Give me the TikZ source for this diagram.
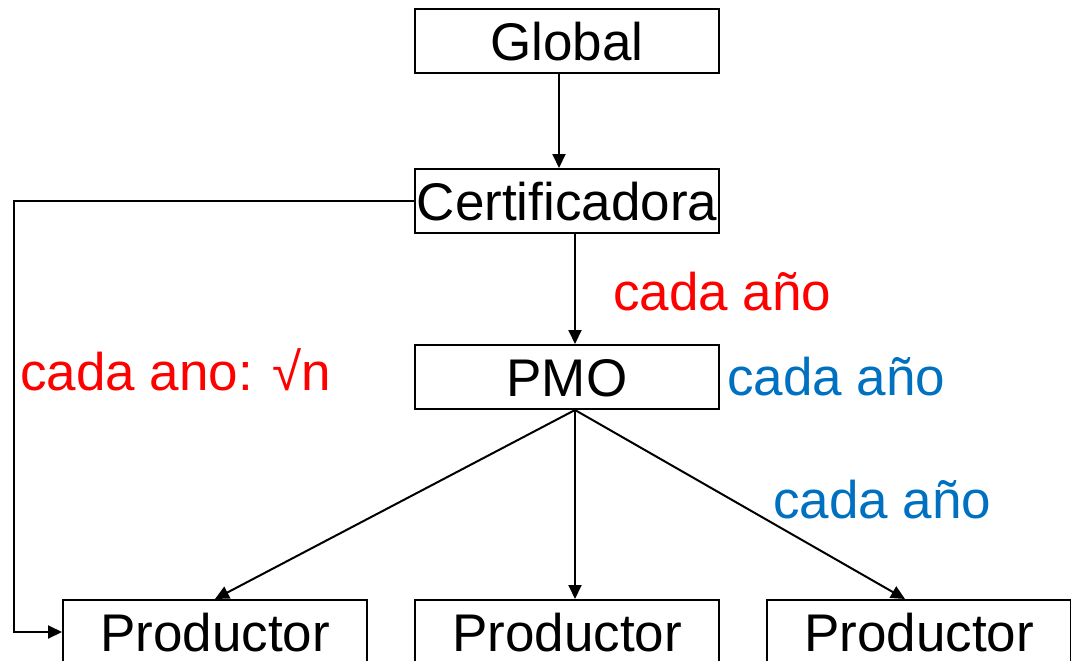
\documentclass[tikz,border=0pt]{standalone}
\usepackage{fontspec}
\setmainfont{Liberation Sans}
\usetikzlibrary{positioning, arrows.meta}
\definecolor{anoblue}{RGB}{0,112,192}

\begin{document}
\begin{tikzpicture}[x=1pt, y=-1pt, font=\fontsize{53}{60}\selectfont,
        box/.style={draw, line width=2pt, minimum width=304pt, minimum height=64pt,
            inner sep=0pt, text height=38pt, text depth=0pt},
        arr/.style={line width=2pt, -{Triangle[length=14pt, width=13pt]}},
        lbl/.style={anchor=base west, inner sep=0pt}]
            \clip (0,0) rectangle (1071,661);

            \node [box] (global) at (567,41) {Global};
            \node [box, below=94pt of global] (cert) {Certificadora};
            \node [box, below=110pt of cert] (pmo) {PMO};
            \node [box, below=189pt of pmo] (prodB) {Productor};
            \node [box, left=46pt of prodB] (prodA) {Productor};
            \node [box, right=46pt of prodB] (prodC) {Productor};

            % labels
            \node [lbl, text=red] (certlbl) at (613,310) {cada año};
            \node [lbl, text=red] (sidelbl) at (20,390) {cada ano: √n};
            \node [lbl, text=anoblue] (pmolbl) at (727,395) {cada año};
            \node [lbl, text=anoblue] (prodlbl) at (773,518) {cada año};

            \draw [arr] ([xshift=-8pt]global.south) -- ([xshift=-8pt]cert.north);
            \draw [arr] ([xshift=8pt]cert.south) -- ([xshift=8pt]pmo.north);
            \draw [arr] (cert.west) -- ++(-400,0) |- (prodA.west);

            \coordinate (pmofoot) at ([xshift=8pt]pmo.south);
            \draw [arr] (pmofoot) -- (prodA.north);
            \draw [arr] (pmofoot) -- ([xshift=8pt]prodB.north);
            \draw [arr] (pmofoot) -- ([xshift=-14pt]prodC.north);

        \end{tikzpicture}
\end{document}
